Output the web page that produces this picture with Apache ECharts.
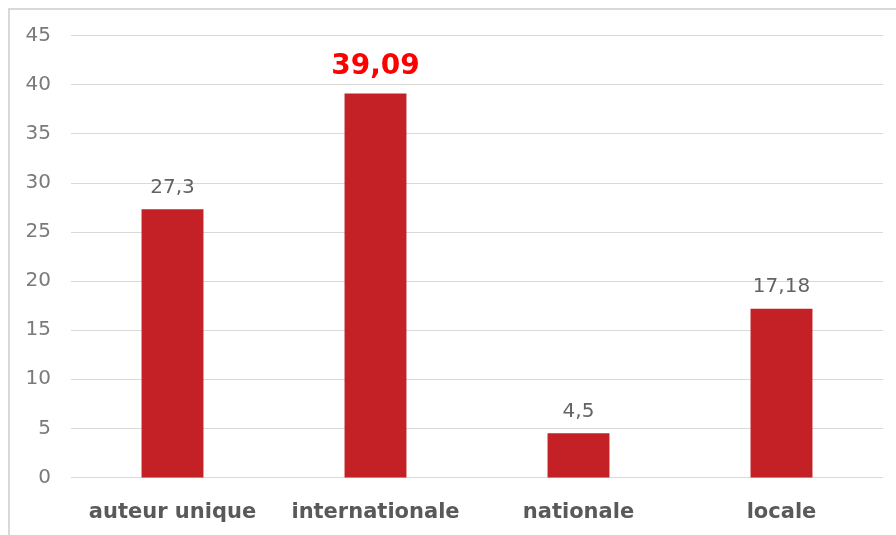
<!DOCTYPE html>
<html>
<head>
<meta charset="utf-8">
<script src="https://cdn.jsdelivr.net/npm/echarts@6/dist/echarts.min.js"></script>
<style>
  html, body { margin: 0; padding: 0; background: #ffffff; }
  #chart { width: 896px; height: 535px; }
</style>
</head>
<body>
<div id="chart"></div>
<script>
// Category names and their values
const categories = ['auteur unique', 'internationale', 'nationale', 'locale'];
const values = [27.3, 39.09, 4.5, 17.18];
// Index of the highlighted bar whose label is emphasised
const highlightIndex = 1;
// Y-axis range
const yMin = 0;
const yMax = 45;
const yStep = 5;

const FONT = '"DejaVu Sans", sans-serif';
const BAR = '#c42126';

const fmt = v => String(v).replace('.', ',');

const chart = echarts.init(document.getElementById('chart'), null, { renderer: 'canvas' });

chart.setOption({
  backgroundColor: '#ffffff',
  animation: false,
  graphic: [{
    type: 'rect',
    shape: { x: 9, y: 9, width: 1200, height: 800 },
    style: { fill: 'none', stroke: '#d9d9d9', lineWidth: 2 },
    silent: true
  }],
  grid: { left: 71, right: 13, top: 35.5, bottom: 57.5, containLabel: false },
  xAxis: {
    type: 'category',
    data: categories,
    axisLine: { show: false },
    axisTick: { show: false },
    axisLabel: {
      interval: 0,
      margin: 25,
      color: '#595959',
      fontFamily: FONT,
      fontWeight: 'bold',
      fontSize: 21
    }
  },
  yAxis: {
    type: 'value',
    min: yMin,
    max: yMax,
    interval: yStep,
    axisLine: { show: false },
    axisTick: { show: false },
    splitLine: { lineStyle: { color: '#d9d9d9', width: 1 } },
    axisLabel: {
      margin: 20,
      color: '#7a7a7a',
      fontFamily: FONT,
      fontSize: 20
    }
  },
  series: [{
    type: 'bar',
    barWidth: '30.5%',
    itemStyle: { color: BAR },
    data: values.map((v, i) => ({
      value: v,
      label: i === highlightIndex ? {
        show: true,
        position: 'top',
        distance: 13,
        color: '#ff0000',
        fontFamily: FONT,
        fontWeight: 'bold',
        fontSize: 28,
        formatter: p => fmt(p.value)
      } : {
        show: true,
        position: 'top',
        distance: 12,
        color: '#636363',
        fontFamily: FONT,
        fontSize: 20,
        formatter: p => fmt(p.value)
      }
    }))
  }]
});
</script>
</body>
</html>
